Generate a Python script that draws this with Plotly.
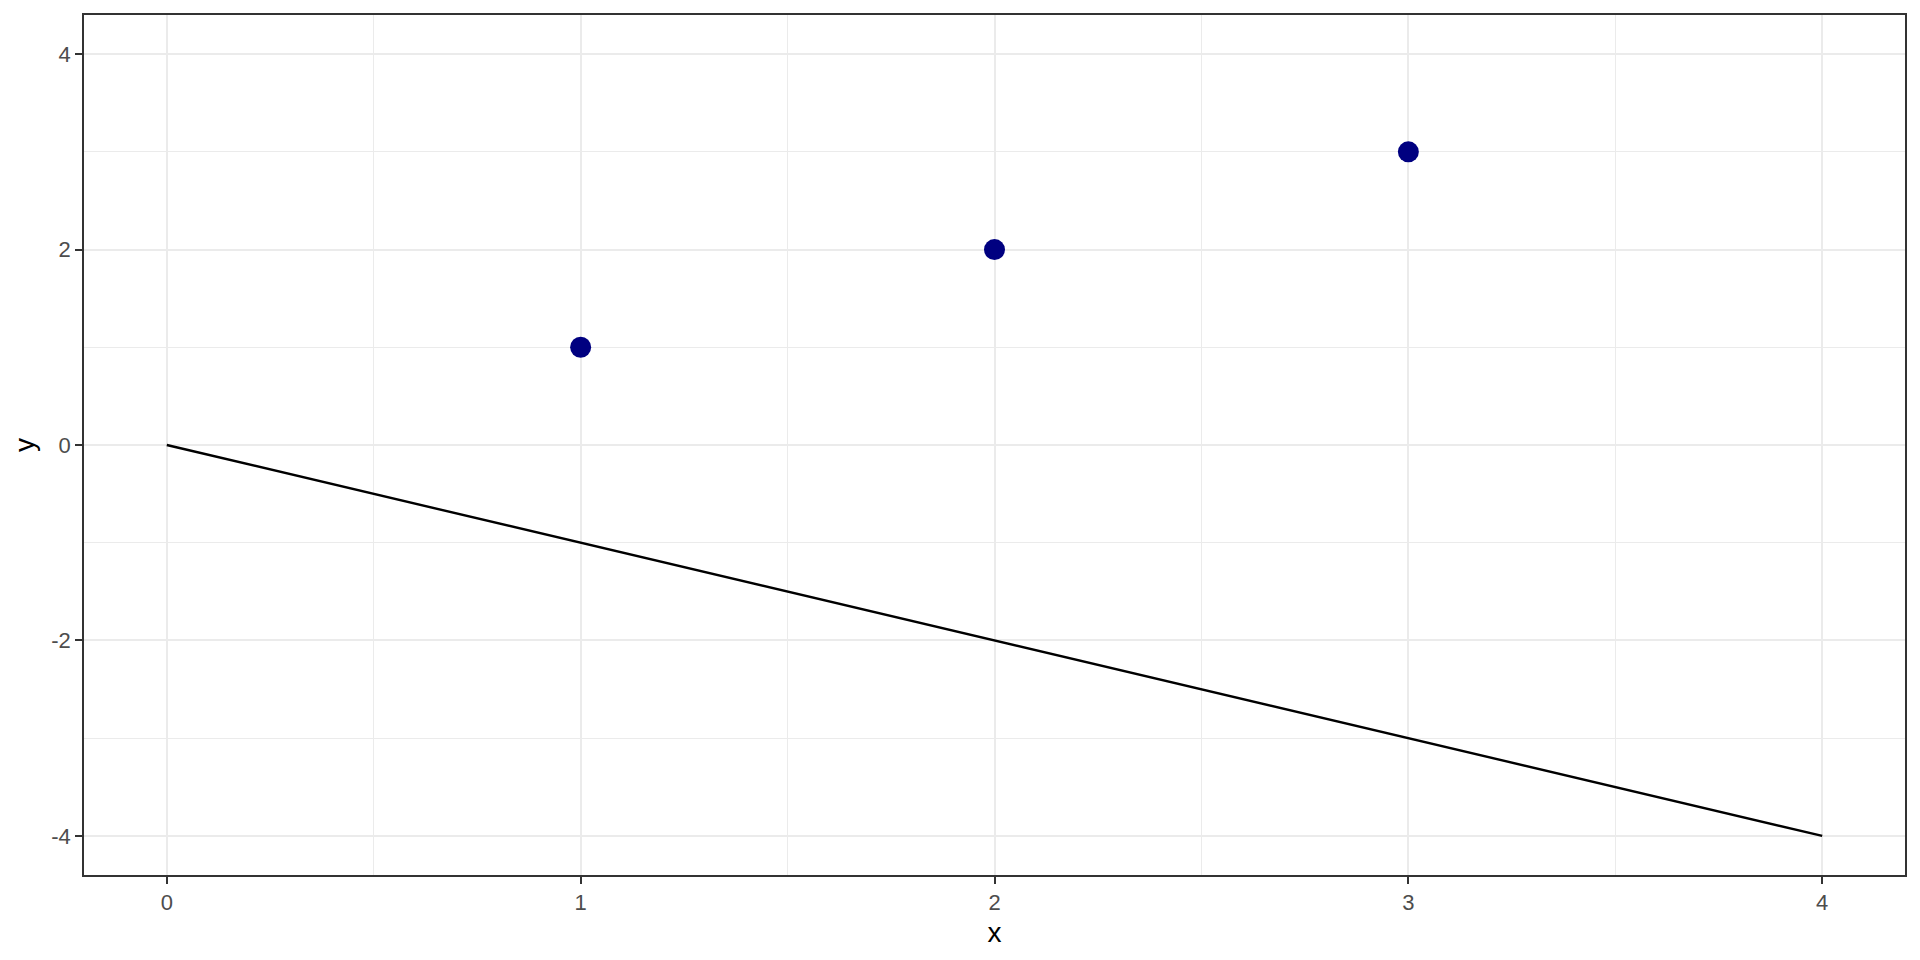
import plotly.graph_objects as go

point_x = [1, 2, 3]
point_y = [1, 2, 3]
line_x = [0, 4]
line_y = [0, -4]
x_ticks = [0, 1, 2, 3, 4]
y_ticks = [-4, -2, 0, 2, 4]

FONT = "Liberation Sans, Arial, sans-serif"

fig = go.Figure()
fig.add_trace(go.Scatter(x=line_x, y=line_y, mode="lines",
                         line=dict(color="black", width=2.4), showlegend=False))
fig.add_trace(go.Scatter(x=point_x, y=point_y, mode="markers",
                         marker=dict(color="#000080", size=21, line=dict(width=0)),
                         showlegend=False))

axis_common = dict(
    showline=True, linecolor="#333333", linewidth=1.5, mirror=True,
    ticks="outside", ticklen=7, tickwidth=2, tickcolor="#333333",
    showgrid=True, gridcolor="#ebebeb", gridwidth=2,
    zeroline=False,
    minor=dict(showgrid=True, gridcolor="#ebebeb", gridwidth=1),
)

fig.update_xaxes(range=[-0.2, 4.2], tickvals=x_ticks, ticktext=[str(v) for v in x_ticks],
                 tickfont=dict(family=FONT, size=22, color="#4d4d4d"),
                 title=dict(text="x", standoff=8, font=dict(family=FONT, size=28, color="black")),
                 minor_dtick=0.5, **axis_common)
fig.update_yaxes(range=[-4.4, 4.4], tickvals=y_ticks, ticktext=[str(v) for v in y_ticks],
                 tickfont=dict(family=FONT, size=22, color="#4d4d4d"),
                 title=dict(text="y", standoff=8, font=dict(family=FONT, size=28, color="black")),
                 minor_dtick=1, **axis_common)

fig.update_layout(
    width=1920, height=960,
    margin=dict(l=84, r=15, t=15, b=85),
    plot_bgcolor="white", paper_bgcolor="white",
    font=dict(family=FONT, size=22, color="#4d4d4d"),
)
fig.write_html("out.html", config={"displayModeBar": False},
               post_script="document.body.style.margin='0';document.body.style.padding='0';")
